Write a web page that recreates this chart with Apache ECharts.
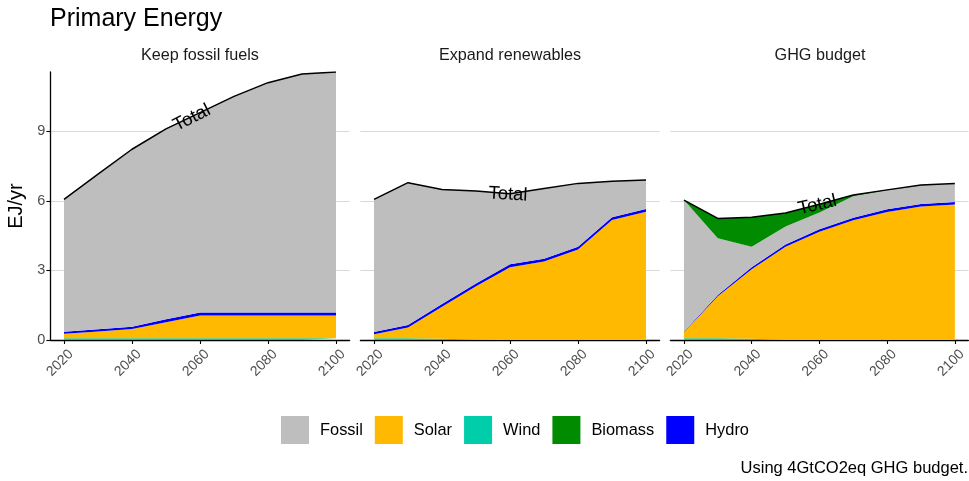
<!DOCTYPE html>
<html>
<head>
<meta charset="utf-8">
<script src="https://cdn.jsdelivr.net/npm/echarts@6/dist/echarts.min.js"></script>
<style>
html,body{margin:0;padding:0;background:#fff;}
#chart{width:969px;height:481px;}
</style>
</head>
<body>
<div id="chart"></div>
<script>
const years = [2020, 2030, 2040, 2050, 2060, 2070, 2080, 2090, 2100];
const xTicks = [2020, 2040, 2060, 2080, 2100];
const yTicks = [0, 3, 6, 9];
const panelTitles = ['Keep fossil fuels', 'Expand renewables', 'GHG budget'];
const legendOrder = ['Fossil', 'Solar', 'Wind', 'Biomass', 'Hydro'];

// Keep fossil fuels
const kfWind    = [0.08, 0.08, 0.08, 0.08, 0.08, 0.08, 0.08, 0.08, 0.08];
const kfSolar   = [0.19, 0.29, 0.39, 0.69, 0.98, 0.98, 0.98, 0.98, 0.98];
const kfHydro   = [0.09, 0.09, 0.10, 0.12, 0.13, 0.13, 0.13, 0.13, 0.13];
const kfBiomass = [0, 0, 0, 0, 0, 0, 0, 0, 0];
const kfFossil  = [5.70, 6.69, 7.65, 8.21, 8.61, 9.31, 9.90, 10.27, 10.36];
const kfTotal   = [6.06, 7.15, 8.22, 9.10, 9.80, 10.50, 11.09, 11.46, 11.55];

// Expand renewables
const erWind    = [0.08, 0.08, 0.05, 0.02, 0, 0, 0, 0, 0];
const erSolar   = [0.17, 0.46, 1.38, 2.30, 3.14, 3.38, 3.90, 5.17, 5.53];
const erHydro   = [0.09, 0.11, 0.12, 0.12, 0.12, 0.12, 0.12, 0.12, 0.12];
const erBiomass = [0, 0, 0, 0, 0, 0, 0, 0, 0];
const erFossil  = [5.72, 6.13, 4.94, 3.98, 3.04, 3.03, 2.73, 1.55, 1.25];
const erTotal   = [6.06, 6.78, 6.49, 6.42, 6.30, 6.53, 6.75, 6.84, 6.90];

// GHG budget
const gbWind    = [0.08, 0.08, 0.05, 0.01, 0, 0, 0, 0, 0];
const gbSolar   = [0.25, 1.81, 3.00, 4.01, 4.66, 5.16, 5.52, 5.75, 5.84];
const gbHydro   = [0.03, 0.05, 0.08, 0.10, 0.11, 0.11, 0.11, 0.11, 0.11];
const gbBiomass = [0, 0.86, 1.27, 0.58, 0.35, 0.05, 0.02, 0.02, 0.02];
const gbFossil  = [5.67, 2.44, 0.89, 0.77, 0.73, 0.93, 0.82, 0.80, 0.78];
const gbTotal   = [6.03, 5.24, 5.29, 5.47, 5.85, 6.25, 6.47, 6.68, 6.75];

// "Total" label anchor [year, value, rotation]
const totalLabels = [[2057.6, 9.57, 27], [2059.4, 6.27, -3], [2059.4, 5.82, 13]];

const colors = {Fossil: '#bebebe', Solar: '#ffb900', Wind: '#00cdaa', Biomass: '#008b00', Hydro: '#0000ff'};
const FONT = 'Liberation Sans, Arial, Helvetica, sans-serif';

const panels = [
  {Wind: kfWind, Solar: kfSolar, Hydro: kfHydro, Biomass: kfBiomass, Fossil: kfFossil, Total: kfTotal},
  {Wind: erWind, Solar: erSolar, Hydro: erHydro, Biomass: erBiomass, Fossil: erFossil, Total: erTotal},
  {Wind: gbWind, Solar: gbSolar, Hydro: gbHydro, Biomass: gbBiomass, Fossil: gbFossil, Total: gbTotal}
];
const stackOrder = ['Wind', 'Solar', 'Hydro', 'Fossil', 'Biomass'];

const gridLefts = [50.4, 360.4, 670.4];
const grids = gridLefts.map(l => ({left: l, width: 299.2, top: 72, height: 268}));

const xAxes = grids.map((g, i) => ({
  type: 'value', gridIndex: i, min: 2016, max: 2104,
  splitLine: {show: false},
  axisLine: {show: true, lineStyle: {color: '#000', width: 1.3}},
  axisTick: {show: true, customValues: xTicks, length: 4, lineStyle: {color: '#000', width: 1.1}},
  axisLabel: {customValues: xTicks, rotate: 45, color: '#4d4d4d', fontSize: 14, fontFamily: FONT, margin: 5,
    align: 'right', verticalAlign: 'top', padding: [3, 0, 0, 0], formatter: v => String(v)}
}));

const yAxes = grids.map((g, i) => ({
  type: 'value', gridIndex: i, min: 0, max: 11.55, interval: 3,
  name: i === 0 ? 'EJ/yr' : '',
  nameLocation: 'middle', nameRotate: 90, nameGap: 24,
  nameTextStyle: {fontSize: 20, color: '#000', fontFamily: FONT},
  splitLine: {show: true, lineStyle: {color: '#d9d9d9', width: 1.2}},
  axisLine: {show: i === 0, lineStyle: {color: '#000', width: 1.3}},
  axisTick: {show: i === 0, customValues: yTicks, length: 4, lineStyle: {color: '#000', width: 1.1}},
  axisLabel: {show: i === 0, customValues: yTicks, color: '#4d4d4d', fontSize: 14.5, fontFamily: FONT, margin: 5}
}));

const series = [];
panels.forEach((p, i) => {
  stackOrder.forEach(name => {
    series.push({
      name: name, type: 'line', xAxisIndex: i, yAxisIndex: i, stack: 'p' + i,
      symbol: 'none', lineStyle: {width: 0}, areaStyle: {color: colors[name], opacity: 1},
      itemStyle: {color: colors[name]}, silent: true,
      encode: {x: 1, y: 0},
      data: years.map((y, k) => [p[name][k], y])
    });
  });
  const lab = totalLabels[i];
  series.push({
    name: 'Total', type: 'line', xAxisIndex: i, yAxisIndex: i,
    symbol: 'none', lineStyle: {color: '#000', width: 1.5}, itemStyle: {color: '#000'}, z: 5,
    encode: {x: 1, y: 0},
    data: years.map((y, k) => [p.Total[k], y]),
    markPoint: {
      symbol: 'circle', symbolSize: 0, silent: true,
      data: [{coord: [lab[0], lab[1]], value: 'Total'}],
      label: {show: true, position: 'inside', formatter: 'Total', rotate: lab[2],
        fontSize: 18.5, color: '#000', fontFamily: FONT}
    }
  });
});

const graphics = panelTitles.map((t, i) => ({
  type: 'text', x: gridLefts[i] + 149.6, y: 56,
  style: {text: t, fill: '#1a1a1a', fontSize: 16.2, fontFamily: FONT, align: 'center', verticalAlign: 'middle'}
}));
graphics.push({
  type: 'text', x: 968, y: 468,
  style: {text: 'Using 4GtCO2eq GHG budget.', fill: '#000', fontSize: 16.5, fontFamily: FONT, align: 'right', verticalAlign: 'middle'}
});

const chart = echarts.init(document.getElementById('chart'), null, {renderer: 'canvas'});
chart.setOption({
  animation: false,
  backgroundColor: '#fff',
  title: {text: 'Primary Energy', left: 50, top: 7, padding: 0,
    textStyle: {fontSize: 25, fontWeight: 'normal', color: '#000', fontFamily: FONT}},
  legend: {
    data: legendOrder, left: 281, top: 416, padding: 0, icon: 'rect', itemWidth: 28, itemHeight: 28, itemGap: 12,
    textStyle: {fontSize: 16.4, color: '#000', fontFamily: FONT, padding: [0, 0, 0, 6]},
    selectedMode: false
  },
  grid: grids, xAxis: xAxes, yAxis: yAxes, series: series, graphic: graphics
});
</script>
</body>
</html>
